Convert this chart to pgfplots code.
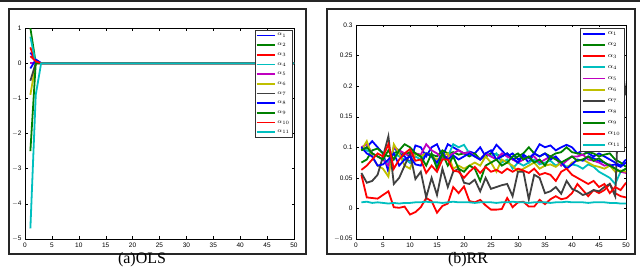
\documentclass[border=0pt]{standalone}
\usepackage{pgfplots}
\pgfplotsset{compat=1.18}
\usepackage{fontspec}
\setmainfont{Liberation Serif}
\newfontfamily\ticksf{Liberation Sans}
\definecolor{mblue}{rgb}{0,0,1}
\definecolor{mgreen}{rgb}{0,0.5,0}
\definecolor{mred}{rgb}{1,0,0}
\definecolor{mcyan}{rgb}{0,0.75,0.75}
\definecolor{mmag}{rgb}{0.75,0,0.75}
\definecolor{myel}{rgb}{0.75,0.75,0}
\definecolor{mgray}{rgb}{0.25,0.25,0.25}

\pgfplotstableread{
x a1 a2 a3 a4 a5 a6 a7 a8 a9 a10 a11
1 0.095 0.075 0.055 0.100 0.100 0.095 0.058 0.100 0.095 0.063 0.010
2 0.100 0.080 0.018 0.095 0.105 0.110 0.042 0.090 0.100 0.070 0.011
3 0.110 0.095 0.017 0.090 0.090 0.085 0.045 0.085 0.090 0.080 0.009
4 0.100 0.098 0.016 0.085 0.085 0.070 0.055 0.070 0.085 0.090 0.010
5 0.090 0.090 0.022 0.080 0.080 0.065 0.085 0.072 0.080 0.085 0.009
6 0.060 0.085 0.028 0.075 0.070 0.052 0.118 0.080 0.095 0.105 0.008
7 0.100 0.090 0.002 0.090 0.100 0.105 0.040 0.090 0.080 0.065 0.009
8 0.090 0.095 0.001 0.085 0.095 0.090 0.050 0.070 0.095 0.080 0.008
9 0.085 0.088 0.003 0.080 0.090 0.070 0.070 0.080 0.105 0.090 0.009
10 0.075 0.092 -0.010 0.075 0.085 0.065 0.090 0.085 0.100 0.097 0.009
11 0.103 0.090 -0.006 0.085 0.090 0.090 0.048 0.072 0.090 0.078 0.010
12 0.100 0.085 0.002 0.080 0.088 0.085 0.060 0.070 0.085 0.080 0.010
13 0.085 0.090 0.017 0.090 0.105 0.090 0.018 0.090 0.070 0.058 0.011
14 0.100 0.088 0.012 0.085 0.095 0.085 0.050 0.085 0.090 0.070 0.010
15 0.105 0.085 -0.007 0.070 0.090 0.080 0.022 0.075 0.065 0.060 0.010
16 0.085 0.095 0.004 0.080 0.080 0.085 0.065 0.090 0.090 0.080 0.009
17 0.105 0.090 0.008 0.085 0.085 0.090 0.035 0.080 0.070 0.080 0.010
18 0.100 0.092 0.035 0.105 0.090 0.065 0.060 0.087 0.085 0.062 0.011
19 0.095 0.088 0.025 0.100 0.095 0.070 0.065 0.080 0.065 0.060 0.010
20 0.090 0.090 0.036 0.104 0.090 0.065 0.042 0.085 0.060 0.050 0.010
21 0.093 0.085 0.012 0.090 0.092 0.070 0.040 0.090 0.070 0.060 0.010
22 0.090 0.090 0.010 0.085 0.085 0.075 0.047 0.085 0.065 0.068 0.009
23 0.100 0.080 0.014 0.080 0.080 0.070 0.028 0.080 0.045 0.058 0.010
24 0.085 0.085 0.005 0.090 0.090 0.085 0.050 0.090 0.070 0.068 0.010
25 0.090 0.090 -0.002 0.085 0.085 0.075 0.032 0.095 0.075 0.060 0.010
26 0.104 0.088 -0.002 0.090 0.080 0.060 0.035 0.080 0.080 0.063 0.009
27 0.095 0.085 -0.001 0.075 0.090 0.080 0.038 0.085 0.070 0.058 0.010
28 0.085 0.090 0.017 0.080 0.085 0.075 0.040 0.090 0.075 0.065 0.010
29 0.090 0.080 0.002 0.065 0.080 0.070 0.020 0.082 0.085 0.060 0.011
30 0.080 0.085 0.010 0.075 0.075 0.060 0.060 0.075 0.090 0.065 0.010
31 0.085 0.090 0.011 0.070 0.080 0.065 0.060 0.088 0.080 0.062 0.010
32 0.075 0.100 0.003 0.075 0.085 0.070 0.015 0.082 0.085 0.058 0.009
33 0.090 0.090 0.003 0.080 0.085 0.075 0.055 0.090 0.075 0.065 0.010
34 0.105 0.085 0.014 0.072 0.075 0.065 0.050 0.085 0.080 0.055 0.010
35 0.100 0.090 0.007 0.075 0.080 0.070 0.025 0.090 0.070 0.058 0.010
36 0.103 0.085 0.015 0.078 0.085 0.072 0.028 0.080 0.085 0.055 0.009
37 0.095 0.090 0.020 0.070 0.082 0.068 0.035 0.085 0.080 0.045 0.010
38 0.100 0.092 0.015 0.075 0.070 0.075 0.024 0.075 0.075 0.060 0.010
39 0.104 0.100 0.017 0.068 0.078 0.065 0.045 0.065 0.080 0.065 0.011
40 0.100 0.092 0.025 0.072 0.085 0.075 0.032 0.072 0.085 0.055 0.010
41 0.090 0.090 0.040 0.070 0.085 0.078 0.028 0.080 0.078 0.050 0.010
42 0.095 0.088 0.030 0.065 0.088 0.080 0.022 0.078 0.080 0.045 0.010
43 0.090 0.092 0.020 0.072 0.080 0.075 0.025 0.085 0.085 0.040 0.009
44 0.085 0.090 0.030 0.068 0.078 0.070 0.030 0.082 0.078 0.045 0.010
45 0.090 0.085 0.025 0.060 0.075 0.068 0.028 0.078 0.082 0.035 0.010
46 0.085 0.088 0.030 0.055 0.070 0.065 0.035 0.075 0.075 0.040 0.010
47 0.080 0.090 0.040 0.050 0.072 0.070 0.040 0.070 0.070 0.025 0.009
48 0.075 0.080 0.025 0.040 0.065 0.060 0.020 0.072 0.065 0.035 0.009
49 0.070 0.075 0.020 0.060 0.060 0.062 0.250 0.068 0.060 0.030 0.008
50 0.080 0.068 0.018 0.065 0.058 0.060 0.185 0.075 0.065 0.042 0.008
}\rrdata

\pgfplotsset{
  mstyle/.style={
    scale only axis,
    tick align=inside,
    xtick pos=both, ytick pos=both,
    major tick length=2.5pt,
    tick style={black, line width=0.4pt},
    axis line style={line width=0.5pt},
    tick label style={font=\ticksf\fontsize{6.5}{7}\selectfont},
    xmin=0, xmax=50,
    xtick={0,5,...,50},
    xticklabels={0,5,10,15,20,25,30,35,40,45,50},
    every axis plot post/.append style={line width=1.8pt},
    legend cell align=left,
  },
}

\begin{document}
\begin{tikzpicture}[x=1pt,y=1pt]
\useasboundingbox (0,0) rectangle (640,272);
\fill[black!85] (0,269.5) rectangle (640,272);
\draw[line width=1.6pt, black!85] (9,18) rectangle (306,263);
\draw[line width=1.6pt, black!85] (327,18) rectangle (635,263);

\begin{axis}[mstyle,
  at={(25pt,33pt)}, anchor=south west,
  width=269pt, height=211pt,
  ymin=-5, ymax=1,
  ytick={-5,-4,-3,-2,-1,0,1},
  yticklabels={$-$5,$-$4,$-$3,$-$2,$-$1,0,1},
  legend style={at={(0.996,0.99)}, anchor=north east,
    font=\fontsize{6.5}{7}\selectfont, inner sep=1pt, row sep=1.6pt,
    draw=black!80, line width=0.6pt},
  legend image code/.code={\draw[#1, line width=1.6pt] (0pt,0pt) -- (18pt,0pt);},
]
\addplot[mblue] coordinates {(1,0.3) (2,0.1) (3,0) (50,0)};
\addlegendentry{$\alpha_{1}$}
\addplot[mgreen] coordinates {(1,1) (2,0) (50,0)};
\addlegendentry{$\alpha_{2}$}
\addplot[mred] coordinates {(1,0.45) (2,0) (50,0)};
\addlegendentry{$\alpha_{3}$}
\addplot[mcyan] coordinates {(1,0.75) (2,0) (50,0)};
\addlegendentry{$\alpha_{4}$}
\addplot[mmag] coordinates {(1,0) (2,0) (50,0)};
\addlegendentry{$\alpha_{5}$}
\addplot[myel] coordinates {(1,-0.9) (2,0) (50,0)};
\addlegendentry{$\alpha_{6}$}
\addplot[mgray] coordinates {(1,-0.5) (2,0) (50,0)};
\addlegendentry{$\alpha_{7}$}
\addplot[mblue] coordinates {(1,-0.15) (2,0.1) (3,0) (50,0)};
\addlegendentry{$\alpha_{8}$}
\addplot[mgreen] coordinates {(1,-2.5) (2,0) (50,0)};
\addlegendentry{$\alpha_{9}$}
\addplot[mred] coordinates {(1,0.2) (2,0.05) (3,0) (50,0)};
\addlegendentry{$\alpha_{10}$}
\addplot[mcyan] coordinates {(1,-4.7) (2,-0.9) (3,0) (50,0)};
\addlegendentry{$\alpha_{11}$}
\node[anchor=south west, inner sep=0.5pt, font=\ticksf\fontsize{5.5}{6}\selectfont]
  at (rel axis cs:0,1) {x 10\textsuperscript{18}};
\end{axis}

\begin{axis}[mstyle,
  at={(356pt,33pt)}, anchor=south west,
  width=270pt, height=214pt,
  ymin=-0.05, ymax=0.3,
  ytick={-0.05,0,0.05,0.1,0.15,0.2,0.25,0.3},
  yticklabels={$-$0.05,0,0.05,0.1,0.15,0.2,0.25,0.3},
  legend style={at={(0.993,0.986)}, anchor=north east,
    font=\fontsize{7.5}{8}\selectfont, inner sep=1.5pt, row sep=2.6pt,
    draw=black!80, line width=0.6pt},
  legend image code/.code={\draw[#1, line width=1.8pt] (0pt,0pt) -- (22pt,0pt);},
]
\addplot[mblue] table[x=x,y=a1] {\rrdata}; \addlegendentry{$\alpha_{1}$}
\addplot[mgreen] table[x=x,y=a2] {\rrdata}; \addlegendentry{$\alpha_{2}$}
\addplot[mred] table[x=x,y=a3] {\rrdata}; \addlegendentry{$\alpha_{3}$}
\addplot[mcyan] table[x=x,y=a4] {\rrdata}; \addlegendentry{$\alpha_{4}$}
\addplot[mmag] table[x=x,y=a5] {\rrdata}; \addlegendentry{$\alpha_{5}$}
\addplot[myel] table[x=x,y=a6] {\rrdata}; \addlegendentry{$\alpha_{6}$}
\addplot[mgray] table[x=x,y=a7] {\rrdata}; \addlegendentry{$\alpha_{7}$}
\addplot[mblue] table[x=x,y=a8] {\rrdata}; \addlegendentry{$\alpha_{8}$}
\addplot[mgreen] table[x=x,y=a9] {\rrdata}; \addlegendentry{$\alpha_{9}$}
\addplot[mred] table[x=x,y=a10] {\rrdata}; \addlegendentry{$\alpha_{10}$}
\addplot[mcyan] table[x=x,y=a11] {\rrdata}; \addlegendentry{$\alpha_{11}$}
\end{axis}

\node[font=\fontsize{16}{18}\selectfont] at (142,12) {(a)OLS};
\node[font=\fontsize{16}{18}\selectfont] at (468,12) {(b)RR};
\end{tikzpicture}
\end{document}
